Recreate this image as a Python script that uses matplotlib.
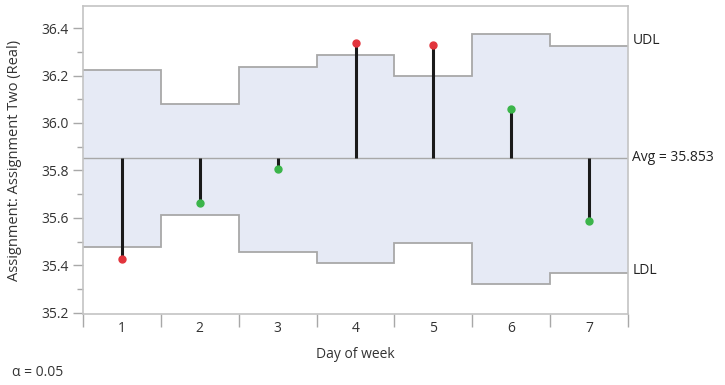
import numpy as np
import matplotlib
matplotlib.use("Agg")
import matplotlib.pyplot as plt
import matplotlib.transforms as mtransforms

plt.rcParams['font.family'] = ['Open Sans', 'DejaVu Sans']

days = [1, 2, 3, 4, 5, 6, 7]
day_means = [35.425, 35.663, 35.804, 36.335, 36.327, 36.059, 35.586]
udl = [36.222, 36.082, 36.237, 36.286, 36.199, 36.373, 36.326]
ldl = [35.476, 35.614, 35.458, 35.411, 35.496, 35.321, 35.367]
avg = 35.853
alpha_level = 0.05

line_grey = '#a8a8a8'
text_col = '#333333'

fig = plt.figure(figsize=(7.25, 3.85), dpi=100)
ax = fig.add_axes([0.1145, 0.1844, 0.7517, 0.800])

edges = np.arange(0.5, len(days) + 1, 1.0)
ax.stairs(udl, edges, baseline=ldl, fill=True, color='#e6eaf5', zorder=1)
ax.stairs(udl, edges, baseline=None, color=line_grey, lw=1.3, zorder=2)
ax.stairs(ldl, edges, baseline=None, color=line_grey, lw=1.3, zorder=2)
ax.axhline(avg, color=line_grey, lw=1.0, zorder=2)

# stems from the average to each day's mean, red when outside the limits
for d, m, hi, lo in zip(days, day_means, udl, ldl):
    ax.plot([d, d], [avg, m], color='#1a1a1a', lw=2.2, zorder=3, solid_capstyle='butt')
    c = '#e2343c' if (m > hi or m < lo) else '#3bb54a'
    ax.plot(d, m, 'o', ms=5, color=c, mec=c, zorder=4)

ax.set_xlim(0.5, len(days) + 0.5)
ax.set_ylim(35.195, 36.493)

ax.set_xticks(days)
ax.set_xticklabels([str(d) for d in days])
ax.set_xticks(edges, minor=True)
ax.tick_params(axis='x', which='major', length=0, pad=5, labelsize=10, labelcolor=text_col)
ax.tick_params(axis='x', which='minor', length=9, width=1, color=line_grey, direction='out')

ax.set_yticks([35.2, 35.4, 35.6, 35.8, 36.0, 36.2, 36.4])
ax.set_yticklabels(['35.2', '35.4', '35.6', '35.8', '36.0', '36.2', '36.4'])
ax.set_yticks(np.arange(35.3, 36.45, 0.2), minor=True)
ax.tick_params(axis='y', which='major', length=7, width=1, color=line_grey, labelsize=10, labelcolor=text_col)
ax.tick_params(axis='y', which='minor', length=4, width=1, color=line_grey)

for s in ax.spines.values():
    s.set_color('#c4c4c4')
    s.set_linewidth(1.2)

ax.set_ylabel('Assignment: Assignment Two (Real)', fontsize=10.5, color=text_col)
ax.yaxis.set_label_coords(-0.112, 0.5)
ax.set_xlabel('Day of week', fontsize=10, color=text_col, labelpad=8)

trans = mtransforms.blended_transform_factory(ax.transAxes, ax.transData)
ax.text(1.008, udl[-1] + 0.02, 'UDL', transform=trans, va='center', ha='left',
        fontsize=10, color='#222222')
ax.text(1.008, avg, 'Avg = 35.853', transform=trans, va='center', ha='left',
        fontsize=10, color='#222222')
ax.text(1.008, ldl[-1] + 0.012, 'LDL', transform=trans, va='center', ha='left',
        fontsize=10, color='#222222')

fig.text(0.016, 0.012, '\u03b1 = ' + str(alpha_level), fontsize=10, color=text_col,
         ha='left', va='bottom')

fig.savefig('out.png', dpi=100)
